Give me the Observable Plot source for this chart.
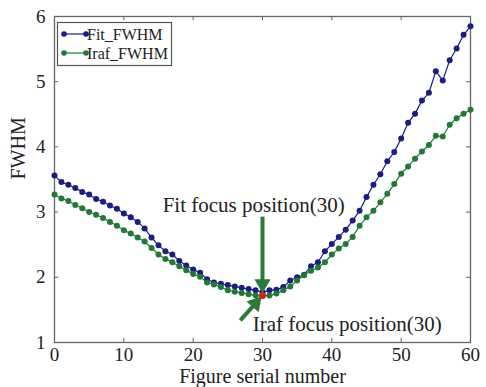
<!DOCTYPE html>
<html>
<head>
<meta charset="utf-8">
<script src="https://cdn.jsdelivr.net/npm/d3@7"></script>
<script src="https://cdn.jsdelivr.net/npm/@observablehq/plot@0.6"></script>
<style>
  html, body { margin: 0; padding: 0; background: #fff; }
  #chart svg { display: block; }
</style>
</head>
<body>
<div id="chart"></div>
<script>
// ---- data ----
const serial = d3.range(0, 61);
const fitFWHM = [3.56,3.46,3.42,3.37,3.31,3.27,3.20,3.16,3.10,3.05,
  2.98,2.92,2.85,2.75,2.61,2.49,2.40,2.35,2.25,2.18,
  2.12,2.07,1.97,1.92,1.90,1.88,1.86,1.84,1.82,1.80,
  1.77,1.80,1.81,1.85,1.95,2.00,2.04,2.17,2.23,2.40,
  2.51,2.62,2.73,2.87,3.02,3.23,3.42,3.58,3.78,3.92,
  4.13,4.37,4.51,4.71,4.83,5.16,5.02,5.33,5.51,5.72,5.85];
const irafFWHM = [3.27,3.21,3.17,3.11,3.06,3.00,2.96,2.91,2.85,2.79,
  2.72,2.67,2.61,2.55,2.45,2.35,2.28,2.23,2.17,2.11,
  2.05,2.01,1.92,1.89,1.85,1.80,1.78,1.76,1.74,1.72,
  1.72,1.72,1.75,1.80,1.86,1.95,2.03,2.10,2.15,2.23,
  2.35,2.44,2.51,2.62,2.79,2.92,3.02,3.15,3.28,3.43,
  3.59,3.70,3.82,3.93,4.03,4.17,4.16,4.34,4.44,4.51,4.57];
const seriesNames = ["Fit_FWHM", "Iraf_FWHM"];
const xTicks = [0, 10, 20, 30, 40, 50, 60];
const yTicks = [1, 2, 3, 4, 5, 6];
const focusPoint = [{x: 30, y: 1.72}];
// annotation arrows: from (x1,y1) to tip (x2,y2)
const arrows = [
  {x1: 30, y1: 2.93, x2: 30, y2: 1.90, rot: 180},
  {x1: 26.8, y1: 1.34, x2: 29.0, y2: 1.60, rot: 41}
];
const labels = [
  {x: 15.6, y: 3.10, text: "Fit focus position(30)"},
  {x: 28.6, y: 1.28, text: "Iraf focus position(30)"}
];

const blue = "#1c1c86";
const green = "#1f7a34";
const arrowGreen = "#2b7a3a";

const fitData = serial.map((s, i) => ({x: s, y: fitFWHM[i]}));
const irafData = serial.map((s, i) => ({x: s, y: irafFWHM[i]}));

const font = "'Liberation Serif', 'Times New Roman', serif";

const plot = Plot.plot({
  width: 486,
  height: 387,
  marginLeft: 54,
  marginRight: 16,
  marginTop: 16,
  marginBottom: 45,
  style: {fontFamily: font, background: "#fff", color: "#222"},
  x: {domain: [0, 60]},
  y: {domain: [1, 6]},
  marks: [
    Plot.frame({stroke: "#666", strokeWidth: 1.3}),
    // inward ticks
    Plot.ruleX(xTicks, {x: d => d, y1: 1, y2: 1.065, stroke: "#666"}),
    Plot.ruleX(xTicks, {x: d => d, y1: 6, y2: 5.935, stroke: "#666"}),
    Plot.ruleY(yTicks, {y: d => d, x1: 0, x2: 0.6, stroke: "#666"}),
    Plot.ruleY(yTicks, {y: d => d, x1: 60, x2: 59.4, stroke: "#666"}),
    Plot.axisX({ticks: xTicks, tickSize: 0, tickPadding: 5, fontSize: 19, label: null, tickFormat: d => d}),
    Plot.axisY({ticks: yTicks, tickSize: 0, tickPadding: 9, fontSize: 19, label: null, tickFormat: d => d}),
    Plot.text(["Figure serial number"], {frameAnchor: "bottom", dy: 34, text: d => d, fontSize: 20, lineAnchor: "middle", fill: "#222"}),
    Plot.text(["FWHM"], {frameAnchor: "left", dx: -36, rotate: -90, text: d => d, fontSize: 20, fill: "#222"}),
    // series
    Plot.line(fitData, {x: "x", y: "y", stroke: blue, strokeWidth: 1.2}),
    Plot.dot(fitData, {x: "x", y: "y", r: 3, fill: blue}),
    Plot.line(irafData, {x: "x", y: "y", stroke: green, strokeWidth: 1.2}),
    Plot.dot(irafData, {x: "x", y: "y", r: 3, fill: green}),
    // annotations
    Plot.link(arrows, {x1: "x1", y1: "y1", x2: "x2", y2: "y2", stroke: arrowGreen, strokeWidth: 4}),
    Plot.dot(arrows, {x: "x2", y: "y2", symbol: "triangle", rotate: "rot", r: 6, fill: arrowGreen}),
    Plot.dot(focusPoint, {x: "x", y: "y", r: 3.5, fill: "#d42020"}),
    Plot.text(labels, {x: "x", y: "y", text: "text", textAnchor: "start", fontSize: 21, fill: "#222"})
  ]
});

document.getElementById("chart").appendChild(plot);

// legend (drawn inside the plot frame, upper left)
const svg = d3.select(plot);
const lg = svg.append("g");
lg.append("rect").attr("x", 57.5).attr("y", 22.5).attr("width", 114).attr("height", 43)
  .attr("fill", "#fff").attr("stroke", "#555").attr("stroke-width", 1.2);
[[seriesNames[0], blue, 34], [seriesNames[1], green, 53]].forEach(([name, c, y]) => {
  lg.append("line").attr("x1", 64).attr("x2", 86).attr("y1", y).attr("y2", y).attr("stroke", c).attr("stroke-width", 1.2);
  lg.append("circle").attr("cx", 64).attr("cy", y).attr("r", 2.8).attr("fill", c);
  lg.append("circle").attr("cx", 86).attr("cy", y).attr("r", 2.8).attr("fill", c);
  lg.append("text").attr("x", 87).attr("y", y).attr("dy", "0.35em")
    .attr("text-anchor", "start").attr("font-family", font).attr("font-size", 16)
    .attr("fill", "#222").text(name);
});
</script>
</body>
</html>
